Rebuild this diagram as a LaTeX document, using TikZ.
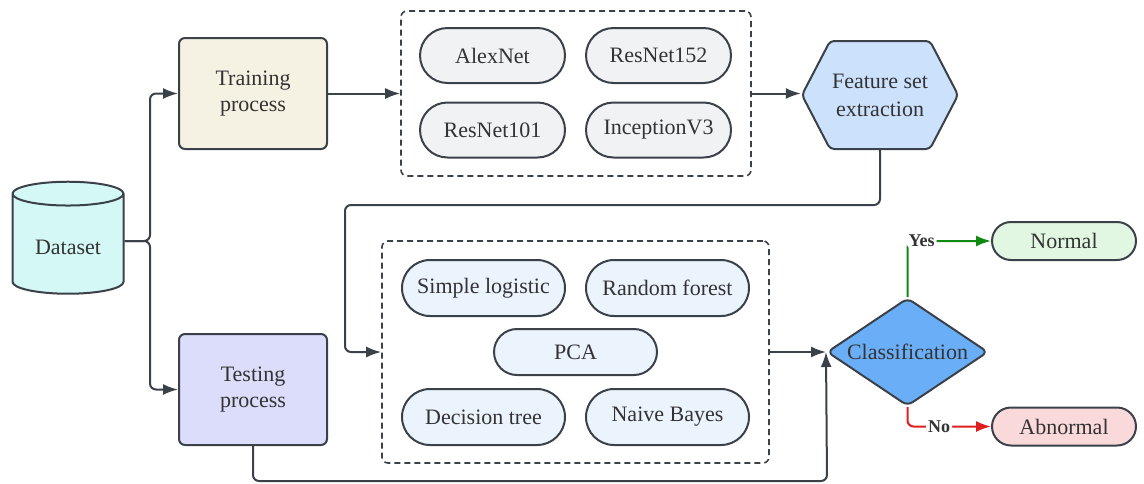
\documentclass[tikz,border=0pt]{standalone}
\usepackage{fontspec}
\setmainfont{Liberation Serif}
\usepackage{xcolor}
\usetikzlibrary{shapes.geometric,shapes.misc,shapes.symbols,arrows.meta}

\definecolor{linegray}{HTML}{3B4149}
\definecolor{textgray}{HTML}{333333}
\definecolor{datafill}{HTML}{D4F8F5}
\definecolor{trainfill}{HTML}{F6F2E3}
\definecolor{testfill}{HTML}{DCDDFA}
\definecolor{cnnfill}{HTML}{F1F2F4}
\definecolor{mlfill}{HTML}{EBF3FD}
\definecolor{featfill}{HTML}{CCE1FB}
\definecolor{clsfill}{HTML}{6AAEF8}
\definecolor{normfill}{HTML}{E1F7E2}
\definecolor{abnfill}{HTML}{F9D9DA}
\definecolor{yesgreen}{HTML}{118A11}
\definecolor{nored}{HTML}{E01E1E}

\begin{document}
\begin{tikzpicture}[x=0.5pt, y=-0.5pt, font=\fontsize{11}{13}\selectfont, text=textgray,
        box/.style={draw=linegray, line width=1pt, rounded corners=3pt, minimum width=74pt, minimum height=55.5pt, align=center},
        pill/.style={rounded rectangle, draw=linegray, line width=1pt, minimum width=74.5pt, minimum height=27.5pt, inner sep=1pt},
        group/.style={draw=linegray, line width=0.8pt, dash pattern=on 3pt off 2pt, rounded corners=3pt},
        arr/.style={draw=linegray, line width=1pt, -{Latex[length=7.5pt,width=5.5pt]}, rounded corners=3pt},
        lbl/.style={fill=white, inner sep=1pt, font=\fontsize{9}{10}\selectfont\bfseries}]
        \useasboundingbox (0,0) rectangle (1144,483);

        % input and the two processes
        \node [cylinder, shape border rotate=90, aspect=0.3, draw=linegray, line width=1pt, fill=datafill, minimum width=55.5pt, minimum height=56pt] (data) at (68,247) {Dataset};
        \node [box, fill=trainfill] (train) at (253,93.5) {Training\\process};
        \node [box, fill=testfill] (test) at (253,389.5) {Testing\\process};
        \coordinate (split) at (150,241);

        % CNN models
        \node [group, minimum width=175pt, minimum height=82.5pt] (cnn) at (576,93.5) {};
        \node [pill, fill=cnnfill] (alex) at (492.5,55.5) {AlexNet};
        \node [pill, fill=cnnfill] (r152) at (658.5,55.5) {ResNet152};
        \node [pill, fill=cnnfill] (r101) at (492.5,130) {ResNet101};
        \node [pill, fill=cnnfill] (incep) at (658.5,130) {InceptionV3};

        \node [signal, signal to=east and west, signal pointer angle=125, draw=linegray, line width=1pt, fill=featfill, rounded corners=2pt, minimum width=73.5pt, minimum height=54pt, inner sep=1pt, align=center, font=\fontsize{11}{14}\selectfont] (feat) at (880,95) {Feature set\\extraction};

        % classifiers
        \node [group, minimum width=193.5pt, minimum height=111pt] (ml) at (575.5,352) {};
        \node [pill, fill=mlfill, minimum width=83.5pt, minimum height=28pt] (slog) at (483.5,288) {Simple logistic};
        \node [pill, fill=mlfill, minimum width=83.5pt, minimum height=28pt] (rf) at (667.5,288) {Random forest};
        \node [pill, fill=mlfill, minimum width=83.5pt, minimum height=23pt] (pca) at (575.5,352) {PCA};
        \node [pill, fill=mlfill, minimum width=83.5pt, minimum height=28pt] (dtree) at (483.5,417) {Decision tree};
        \node [pill, fill=mlfill, minimum width=83.5pt, minimum height=28pt] (nb) at (667.5,417) {Naive Bayes};

        \node [diamond, draw=linegray, line width=1pt, fill=clsfill, rounded corners=3pt, inner sep=0pt, aspect=1.5, minimum width=80.5pt, minimum height=54pt] (cls) at (907.5,352) {Classification};
        \node [pill, fill=normfill, minimum width=74pt, minimum height=19pt] (norm) at (1064,241) {Normal};
        \node [pill, fill=abnfill, minimum width=74pt, minimum height=19pt] (abn) at (1064,426.5) {Abnormal};
        \coordinate (loop) at (345,205);
        \coordinate (low) at (827,481);

        % connectors
        \draw [arr] (data.east |- split) -- (split) |- (train.west);
        \draw [arr] (data.east |- split) -- (split) |- (test.west);
        \draw [arr] (train.east) -- (cnn.west);
        \draw [arr] (cnn.east) -- (cnn.east -| feat.west);
        \draw [arr] (feat.south) |- (loop) |- (ml.west);
        \draw [arr] (ml.east) -- (cls.west);
        \draw [arr] (test.south) |- (low) -- (cls.west);
        \draw [arr, draw=yesgreen, -{Latex[length=7.5pt,width=5.5pt,fill=yesgreen]}] (cls.north) |- node [lbl, pos=0.585] {Yes} (norm.west);
        \draw [arr, draw=nored, -{Latex[length=7.5pt,width=5.5pt,fill=nored]}] (cls.south) |- node [lbl, pos=0.69] {No} (abn.west);
\end{tikzpicture}
\end{document}
